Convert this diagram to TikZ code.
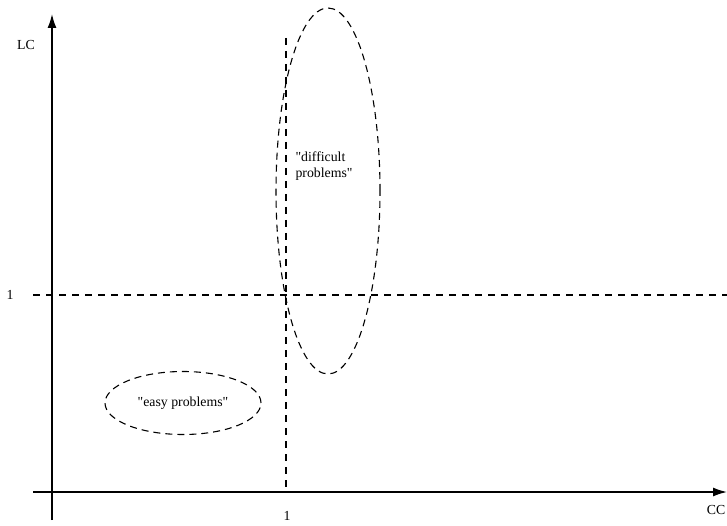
\documentclass[tikz,border=0pt]{standalone}
\usepackage{fontspec}
\setmainfont{Liberation Serif}
\usetikzlibrary{arrows.meta, positioning, shapes.geometric}

\begin{document}
\begin{tikzpicture}[x=1pt, y=-1pt, font=\fontsize{13.8}{16}\selectfont,
    axis/.style={line width=1.5pt, -{Latex[length=14pt, width=9pt]}},
    guide/.style={line width=1.1pt, dash pattern=on 7pt off 6pt},
    region/.style={ellipse, draw, line width=1.1pt, dash pattern=on 7pt off 5pt, inner sep=0pt}]
    \useasboundingbox (0,0) rectangle (727,526);
    % axes
    \coordinate (ybot) at (52,520);
    \coordinate (ytop) at (52,14);
    \coordinate (xleft) at (33,492);
    \coordinate (xright) at (727,492);
    \draw[axis] (ybot) -- (ytop);
    \draw[axis] (xleft) -- (xright);
    % axis labels
    \node (lc) at (26,45) {LC};
    \node (cc) at (716,510) {CC};
    \node (one y) at (10,295) {1};
    \node (one x) at (287,516) {1};
    % unit lines
    \coordinate (hleft) at (33,295);
    \coordinate (hright) at (727,295);
    \coordinate (vtop) at (286,38);
    \coordinate (vbot) at (286,492);
    \draw[guide] (hleft) -- (hright);
    \draw[guide] (vtop) -- (vbot);
    % problem regions
    \node[region, minimum width=104pt, minimum height=366pt] (hard) at (328,191) {};
    \node[region, minimum width=156pt, minimum height=63pt] (easy) at (183,403) {};
    \node[align=left, anchor=west] (hard text) at (292,166) {\textquotedbl difficult\\problems\textquotedbl};
    \node (easy text) at (easy.center) {\textquotedbl easy problems\textquotedbl};
\end{tikzpicture}
\end{document}
